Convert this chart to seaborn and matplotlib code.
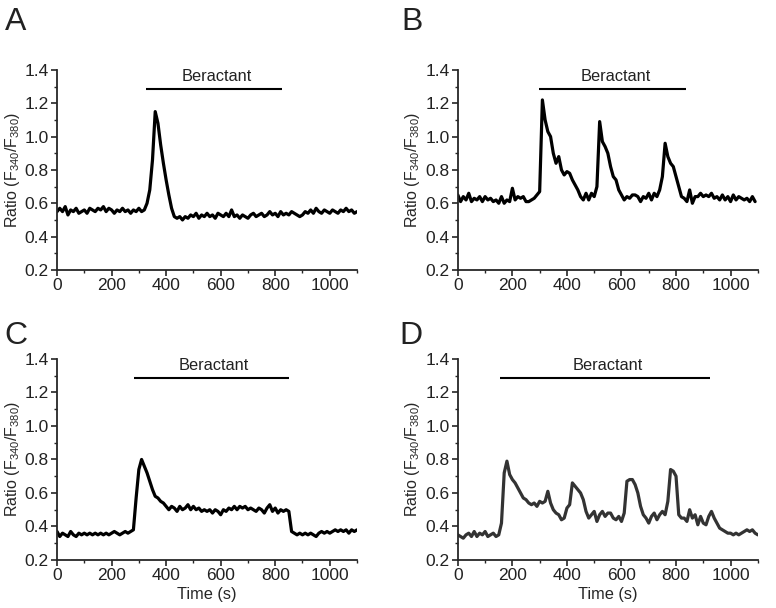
import numpy as np
import pandas as pd
import seaborn as sns
import matplotlib.pyplot as plt
from matplotlib.ticker import MultipleLocator

# time grids (s)
time_a = np.arange(0, 1101, 10)
time_b = np.arange(0, 1091, 10)
time_c = np.arange(0, 1101, 10)
time_d = np.arange(0, 1101, 10)

# F340/F380 ratio traces, every 10 s
ratio_a = [0.55, 0.57, 0.55, 0.58, 0.53, 0.56, 0.55, 0.57, 0.54, 0.55,
           0.56, 0.54, 0.57, 0.56, 0.55, 0.57, 0.56, 0.58, 0.55, 0.57,
           0.56, 0.54, 0.56, 0.55, 0.57, 0.55, 0.56, 0.54, 0.56, 0.55,
           0.57, 0.55, 0.56, 0.60, 0.68, 0.86, 1.15, 1.08, 0.95, 0.84,
           0.74, 0.65, 0.57, 0.52, 0.51, 0.52, 0.50, 0.52, 0.51, 0.53,
           0.52, 0.54, 0.51, 0.53, 0.52, 0.54, 0.52, 0.53, 0.51, 0.54,
           0.53, 0.52, 0.54, 0.52, 0.56, 0.52, 0.53, 0.51, 0.53, 0.52,
           0.51, 0.53, 0.54, 0.52, 0.53, 0.54, 0.52, 0.53, 0.55, 0.53,
           0.54, 0.52, 0.55, 0.53, 0.54, 0.53, 0.55, 0.54, 0.53, 0.52,
           0.53, 0.55, 0.54, 0.56, 0.54, 0.57, 0.55, 0.54, 0.56, 0.55,
           0.54, 0.56, 0.55, 0.54, 0.56, 0.55, 0.57, 0.55, 0.56, 0.54,
           0.55]

ratio_b = [0.65, 0.61, 0.64, 0.62, 0.66, 0.61, 0.63, 0.62, 0.64, 0.61,
           0.64, 0.62, 0.63, 0.61, 0.62, 0.60, 0.64, 0.60, 0.62, 0.61,
           0.69, 0.62, 0.64, 0.63, 0.64, 0.61, 0.61, 0.62, 0.63, 0.65,
           0.67, 1.22, 1.10, 1.03, 1.00, 0.90, 0.84, 0.88, 0.80, 0.77,
           0.79, 0.78, 0.74, 0.71, 0.68, 0.64, 0.62, 0.66, 0.62, 0.66,
           0.64, 0.70, 1.09, 0.97, 0.94, 0.90, 0.82, 0.76, 0.74, 0.68,
           0.65, 0.62, 0.64, 0.63, 0.65, 0.65, 0.64, 0.61, 0.64, 0.63,
           0.66, 0.62, 0.66, 0.64, 0.68, 0.76, 0.96, 0.88, 0.84, 0.82,
           0.76, 0.70, 0.64, 0.63, 0.61, 0.68, 0.60, 0.64, 0.64, 0.66,
           0.64, 0.65, 0.64, 0.66, 0.63, 0.64, 0.62, 0.65, 0.62, 0.64,
           0.61, 0.65, 0.62, 0.64, 0.63, 0.62, 0.63, 0.61, 0.64, 0.61]

ratio_c = [0.37, 0.34, 0.36, 0.35, 0.34, 0.37, 0.35, 0.34, 0.36, 0.35,
           0.36, 0.35, 0.36, 0.35, 0.36, 0.35, 0.36, 0.35, 0.36, 0.35,
           0.36, 0.37, 0.36, 0.35, 0.36, 0.37, 0.36, 0.37, 0.38, 0.57,
           0.74, 0.80, 0.76, 0.72, 0.67, 0.62, 0.58, 0.57, 0.55, 0.54,
           0.52, 0.50, 0.52, 0.51, 0.49, 0.52, 0.50, 0.51, 0.53, 0.50,
           0.52, 0.50, 0.51, 0.49, 0.50, 0.49, 0.50, 0.48, 0.50, 0.49,
           0.47, 0.50, 0.49, 0.51, 0.50, 0.52, 0.50, 0.52, 0.51, 0.52,
           0.50, 0.51, 0.50, 0.49, 0.51, 0.50, 0.48, 0.51, 0.53, 0.49,
           0.51, 0.48, 0.50, 0.49, 0.50, 0.49, 0.37, 0.36, 0.35, 0.36,
           0.35, 0.36, 0.35, 0.36, 0.35, 0.34, 0.36, 0.37, 0.36, 0.37,
           0.36, 0.37, 0.38, 0.37, 0.38, 0.37, 0.38, 0.36, 0.38, 0.37,
           0.38]

ratio_d = [0.35, 0.34, 0.33, 0.35, 0.36, 0.34, 0.37, 0.34, 0.36, 0.35,
           0.37, 0.34, 0.35, 0.36, 0.34, 0.35, 0.42, 0.72, 0.79, 0.71,
           0.68, 0.66, 0.63, 0.60, 0.57, 0.56, 0.54, 0.53, 0.54, 0.52,
           0.55, 0.54, 0.55, 0.61, 0.54, 0.50, 0.48, 0.47, 0.44, 0.45,
           0.51, 0.53, 0.66, 0.64, 0.62, 0.60, 0.56, 0.49, 0.45, 0.47,
           0.49, 0.43, 0.47, 0.49, 0.46, 0.48, 0.48, 0.45, 0.44, 0.46,
           0.43, 0.48, 0.67, 0.68, 0.68, 0.65, 0.60, 0.52, 0.47, 0.45,
           0.42, 0.46, 0.48, 0.44, 0.47, 0.49, 0.47, 0.55, 0.74, 0.73,
           0.70, 0.47, 0.45, 0.45, 0.43, 0.50, 0.45, 0.47, 0.41, 0.46,
           0.42, 0.41, 0.46, 0.49, 0.45, 0.42, 0.39, 0.38, 0.37, 0.36,
           0.36, 0.35, 0.36, 0.35, 0.36, 0.37, 0.38, 0.37, 0.38, 0.36,
           0.35]

# beractant application window (s)
ber_a = (325, 825)
ber_b = (297, 838)
ber_c = (282, 850)
ber_d = (154, 926)

sns.set_style("ticks")
plt.rcParams['font.family'] = ['Liberation Sans', 'DejaVu Sans']
plt.rcParams['text.color'] = '#222222'

fig = plt.figure(figsize=(7.76, 6.08), dpi=100)

# letter, time, ratio, window, colour, axes rect, x label?, letter position
panels = [
    ("A", time_a, ratio_a, ber_a, "black", [0.0735, 0.556, 0.3866, 0.329], False, (0.006, 0.988)),
    ("B", time_b, ratio_b, ber_b, "black", [0.590, 0.556, 0.3866, 0.329], False, (0.517, 0.988)),
    ("C", time_c, ratio_c, ber_c, "black", [0.0735, 0.079, 0.3866, 0.3306], True, (0.006, 0.472)),
    ("D", time_d, ratio_d, ber_d, "#333333", [0.590, 0.079, 0.3866, 0.3306], True, (0.515, 0.472)),
]

for letter, t, r, ber, col, rect, xlab, lpos in panels:
    ax = fig.add_axes(rect)
    df = pd.DataFrame({"time": t, "ratio": r})
    sns.lineplot(data=df, x="time", y="ratio", ax=ax, color=col, linewidth=2.3)

    ax.set_xlim(0, 1100)
    ax.set_ylim(0.2, 1.4)
    ax.xaxis.set_major_locator(MultipleLocator(200))
    ax.xaxis.set_minor_locator(MultipleLocator(100))
    ax.yaxis.set_major_locator(MultipleLocator(0.2))
    ax.yaxis.set_minor_locator(MultipleLocator(0.1))
    ax.yaxis.set_major_formatter(plt.FormatStrFormatter('%.1f'))
    ax.tick_params(which='major', length=4, width=1.2, direction='out', labelsize=12.5,
                   pad=2, labelcolor='#222222')
    ax.tick_params(which='minor', length=2.5, width=1.0, direction='out')
    for s in ['top', 'right']:
        ax.spines[s].set_visible(False)
    for s in ['left', 'bottom']:
        ax.spines[s].set_linewidth(1.3)
    ax.set_ylabel(r'Ratio (F$_\mathregular{340}$/F$_\mathregular{380}$)', fontsize=11.5, labelpad=2)
    ax.set_xlabel('Time (s)' if xlab else '', fontsize=11.8, labelpad=3)

    # beractant bar + label
    bar_y = 1.285
    ax.plot(ber, [bar_y, bar_y], color='black', linewidth=1.5, solid_capstyle='butt')
    ax.text((ber[0] + ber[1]) / 2 + 10, 1.36, "Beractant", ha='center', va='center', fontsize=11.8)

    fig.text(lpos[0], lpos[1], letter, fontsize=23, ha='left', va='top')

fig.savefig("out.png", dpi=100)
